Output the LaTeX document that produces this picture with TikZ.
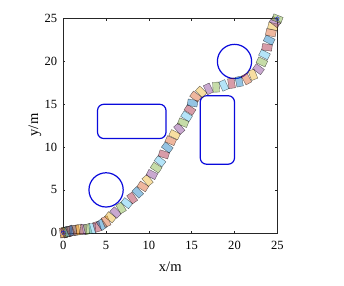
\documentclass[tikz,border=0pt]{standalone}
\usepackage{fontspec}
\setmainfont{Liberation Serif}
\usepackage{tikz}
\usetikzlibrary{shapes.geometric}
\definecolor{obsblue}{HTML}{0A0ADC}
\definecolor{axgray}{gray}{0.15}
\definecolor{car0}{rgb}{0,0.447,0.741}
\definecolor{car1}{rgb}{0.85,0.325,0.098}
\definecolor{car2}{rgb}{0.929,0.694,0.125}
\definecolor{car3}{rgb}{0.494,0.184,0.556}
\definecolor{car4}{rgb}{0.466,0.674,0.188}
\definecolor{car5}{rgb}{0.301,0.745,0.933}
\definecolor{car6}{rgb}{0.635,0.078,0.184}
\tikzstyle{obs}=[draw=obsblue,line width=1.2pt]
\tikzstyle{ticklab}=[font=\fontsize{12.5}{12.5}\selectfont,inner sep=0pt]
\tikzstyle{axlab}=[font=\fontsize{14.5}{14.5}\selectfont,inner sep=0pt]
\tikzstyle{car}=[draw=black,draw opacity=0.6,fill opacity=0.42,line width=0.35pt]

\begin{document}
\begin{tikzpicture}[x=0.3cm,y=0.3cm]
  \useasboundingbox (-7.39,-6.11) rectangle (32.79,27.18);
  % axes box and ticks
  \draw[axgray,line width=0.4pt] (0,0) rectangle (25,25);
  \foreach \v in {0,5,...,25} {
    \draw[axgray,line width=0.4pt] (\v,0) -- (\v,0.25) (\v,25) -- (\v,24.75);
    \draw[axgray,line width=0.4pt] (0,\v) -- (0.25,\v) (25,\v) -- (24.75,\v);
    \node[ticklab] (xt\v) at (\v,-1.44) {\v};
    \node[ticklab,anchor=east] (yt\v) at (-0.7,\v) {\v};
  }
  \node[axlab] (xlab) at (12.5,-3.97) {x/m};
  \node[axlab,rotate=90] (ylab) at (-3.3,12.58) {y/m};
  % obstacles
  \draw[obs] (5,5) circle (2);
  \draw[obs] (20,20) circle (2);
  \draw[obs,rounded corners=2.2mm] (4,11) rectangle (12,15);
  \draw[obs,rounded corners=2.2mm] (16,8) rectangle (20,16);
  % vehicle footprints along the path
  \foreach \x/\y [count=\k, remember=\x as \px (initially -0.5), remember=\y as \py (initially 0)] in
    {0/0, 0.12/0.02, 0.25/0.05, 0.4/0.09, 0.6/0.14, 0.85/0.2, 1.15/0.26, 1.5/0.31,
     1.9/0.35, 2.35/0.38, 2.85/0.42, 3.4/0.5, 3.95/0.7, 4.5/0.95, 5.0/1.3, 5.5/1.8,
     6.1/2.35, 6.75/2.9, 7.4/3.45, 8.05/4.05, 8.7/4.7, 9.3/5.4, 9.85/6.1, 10.35/6.8,
     10.85/7.6, 11.3/8.35, 11.75/9.15, 12.15/9.95, 12.55/10.75, 13.0/11.45,
     13.55/12.15, 14.0/12.85, 14.4/13.6, 14.8/14.35, 15.1/15.15, 15.45/15.9,
     16.1/16.45, 16.95/16.8, 17.85/17.0, 18.75/17.2, 19.65/17.45, 20.55/17.65,
     21.4/17.95, 22.15/18.45, 22.8/19.1, 23.2/19.95, 23.5/20.8, 23.8/21.65,
     24.05/22.5, 24.25/23.35, 24.5/24.1, 24.75/24.6, 25/25} {
    \pgfmathtruncatemacro\ci{mod(\k,7)}
    \pgfmathsetmacro\ang{atan2(\y-\py,\x-\px)+12*sin(\k*137)}
    \draw[car,fill=car\ci,shift={(\x,\y)},rotate=\ang] (-0.38,-0.58) rectangle (0.38,0.58);
  }
  % start and goal markers
  \node[star,star points=5,draw=obsblue,inner sep=0pt,minimum size=4pt] (start) at (0,0) {};
  \node[star,star points=5,draw=obsblue,inner sep=0pt,minimum size=4pt] (goal) at (25,25) {};
\end{tikzpicture}
\end{document}
